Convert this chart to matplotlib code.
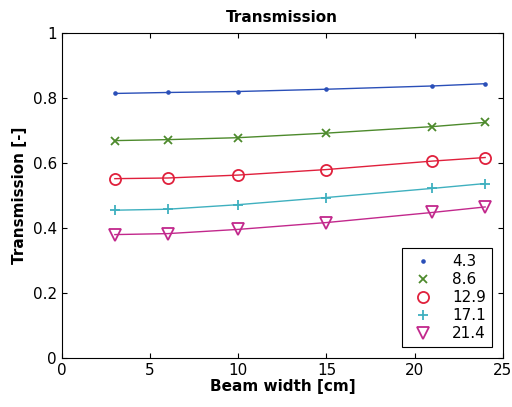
import matplotlib
matplotlib.use("Agg")
import matplotlib.pyplot as plt

# beam width [cm]
beam_width = [3, 6, 10, 15, 21, 24]

# transmission for each thickness
labels = ["4.3", "8.6", "12.9", "17.1", "21.4"]
t_43 = [0.814, 0.817, 0.820, 0.827, 0.837, 0.844]
t_86 = [0.669, 0.672, 0.678, 0.692, 0.712, 0.725]
t_129 = [0.552, 0.554, 0.563, 0.580, 0.606, 0.617]
t_171 = [0.455, 0.458, 0.472, 0.494, 0.522, 0.537]
t_214 = [0.380, 0.383, 0.396, 0.417, 0.448, 0.465]

series = [t_43, t_86, t_129, t_171, t_214]
colors = ["#2a4fb8", "#4d8a2c", "#e0203c", "#3fb0bf", "#c2288c"]
markers = [".", "x", "o", "+", "v"]
msizes = [4, 6, 8, 7, 8]

fig = plt.figure(figsize=(5.12, 4.07), dpi=100)
ax = fig.add_axes([0.121, 0.120, 0.861, 0.799])

for y, c, m, ms, lab in zip(series, colors, markers, msizes, labels):
    ax.plot(beam_width, y, color=c, lw=1.0, marker=m, ms=ms,
            mfc="none" if m in ("o", "v") else c, mew=1.3, label=lab)

ax.set_xlim(0, 25)
ax.set_ylim(0, 1)
ax.set_xticks([0, 5, 10, 15, 20, 25])
ax.set_yticks([0, 0.2, 0.4, 0.6, 0.8, 1])
ax.set_yticklabels(["0", "0.2", "0.4", "0.6", "0.8", "1"])
ax.tick_params(direction="in", top=True, right=True, labelsize=11)

ax.set_title("Transmission", fontweight="bold", fontsize=11, pad=8)
ax.set_xlabel("Beam width [cm]", fontweight="bold", fontsize=11, labelpad=1)
ax.set_ylabel("Transmission [-]", fontweight="bold", fontsize=11)

leg = ax.legend(loc="lower right", fontsize=11, fancybox=False,
                edgecolor="black", framealpha=1, handlelength=2.0,
                handletextpad=0.9, borderpad=0.4,
                borderaxespad=0.7, labelspacing=0.2)
leg.get_frame().set_linewidth(0.8)
for h in leg.get_lines():
    h.set_linestyle("none")

fig.savefig("out.png", dpi=100)
